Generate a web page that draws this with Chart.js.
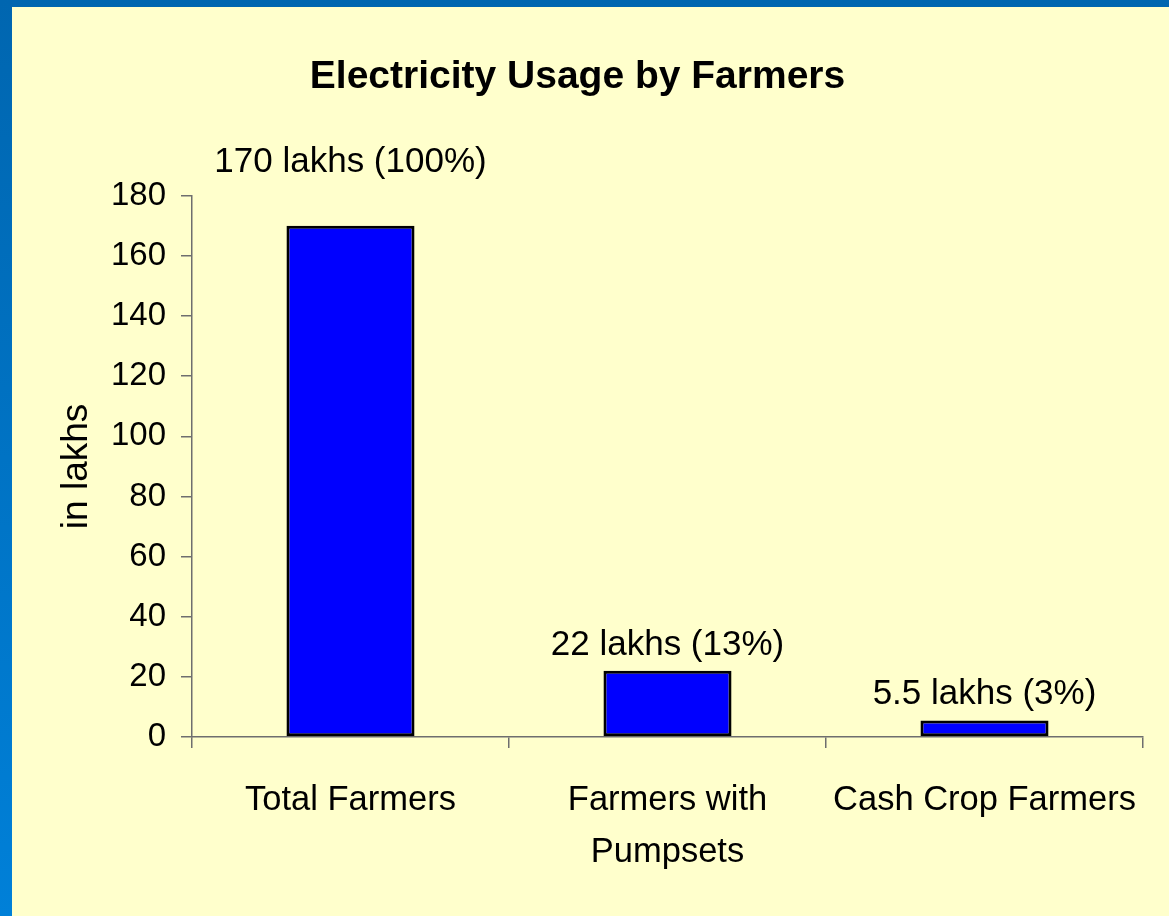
<!DOCTYPE html>
<html>
<head>
<meta charset="utf-8">
<script src="https://cdn.jsdelivr.net/npm/chart.js@4/dist/chart.umd.min.js"></script>
<style>
  html, body { margin: 0; padding: 0; }
  body {
    width: 1169px; height: 916px; overflow: hidden;
    background: linear-gradient(to bottom, #0066b0, #0080d8);
    position: relative;
  }
  #wrap {
    position: absolute; left: 12px; top: 7px;
    width: 1157px; height: 909px;
    background: #ffffcc;
  }
</style>
</head>
<body>
<div id="wrap"><canvas id="farmChart" width="1157" height="909"></canvas></div>
<script>
// 농민 전기 사용 현황 (단위: lakhs)
const categories = ['Total Farmers', ['Farmers with', 'Pumpsets'], 'Cash Crop Farmers'];
const farmers = [170, 22, 5.5];
const barLabels = ['170 lakhs (100%)', '22 lakhs (13%)', '5.5 lakhs (3%)'];
const yTicks = [0, 20, 40, 60, 80, 100, 120, 140, 160, 180];

const FONT = "'Liberation Sans', Arial, sans-serif";
const AXIS = '#6e6e6e';

// 막대 위 라벨 (첫 번째는 조금 더 위로)
const labelLift = [46, 8, 9];
const barLabelPlugin = {
  id: 'barLabels',
  afterDatasetsDraw(chart) {
    const ctx = chart.ctx;
    const meta = chart.getDatasetMeta(0);
    ctx.save();
    ctx.font = '35px ' + FONT;
    ctx.fillStyle = '#000';
    ctx.textAlign = 'center';
    ctx.textBaseline = 'bottom';
    meta.data.forEach(function(bar, i) {
      ctx.fillText(barLabels[i], bar.x, bar.y - labelLift[i]);
    });
    ctx.restore();
  }
};

const crt = document.getElementById('farmChart');
new Chart(crt, {
  type: 'bar',
  data: {
    labels: categories,
    datasets: [{
      label: 'in lakhs',
      data: farmers,
      backgroundColor: '#0000ff',
      borderColor: '#000000',
      borderWidth: 3,
      borderSkipped: false,
      categoryPercentage: 1,
      barPercentage: 0.404
    }]
  },
  options: {
    responsive: false,
    animation: false,
    layout: { padding: { left: 0, right: 26, top: 0, bottom: 0 } },
    plugins: {
      legend: { display: false },
      tooltip: { enabled: false },
      title: {
        display: true,
        text: 'Electricity Usage by Farmers',
        color: '#000',
        font: { family: FONT, size: 39, weight: 'bold' },
        padding: { top: 47, bottom: 95 }
      }
    },
    scales: {
      y: {
        min: 0,
        max: 180,
        afterBuildTicks(scale) {
          scale.ticks = yTicks.map(v => ({ value: v }));
        },
        afterFit(scale) { scale.width = 180; },
        border: { color: AXIS, width: 1.5 },
        grid: { drawOnChartArea: false, color: AXIS, tickLength: 11, lineWidth: 1.5 },
        ticks: {
          color: '#000',
          padding: 15,
          font: { family: FONT, size: 33 }
        },
        title: {
          display: true,
          text: 'in lakhs',
          color: '#000',
          font: { family: FONT, size: 37 },
          padding: { top: 43, bottom: 0 }
        }
      },
      x: {
        afterFit(scale) { scale.height = 179; },
        border: { color: AXIS, width: 1.5 },
        grid: { drawOnChartArea: false, offset: true, color: AXIS, tickLength: 11, lineWidth: 1.5 },
        ticks: {
          color: '#000',
          padding: 26,
          maxRotation: 0,
          font: { family: FONT, size: 34.5, lineHeight: 1.52 }
        }
      }
    }
  },
  plugins: [barLabelPlugin]
});
</script>
</body>
</html>
